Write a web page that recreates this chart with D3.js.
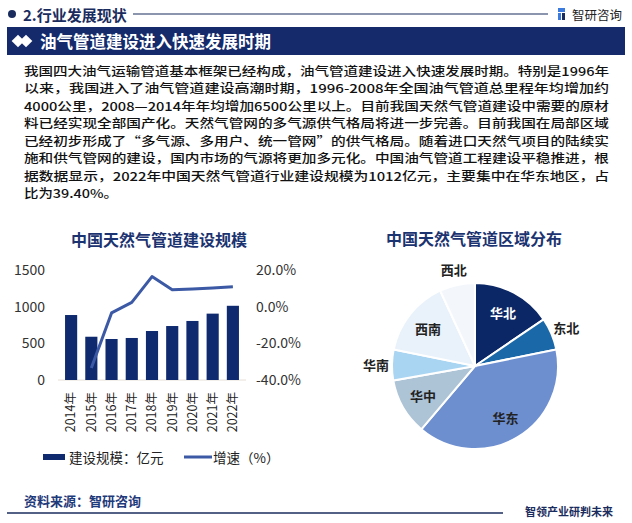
<!DOCTYPE html>
<html><head><meta charset="utf-8">
<script src="https://cdn.jsdelivr.net/npm/d3@7"></script>
<style>body{margin:0;background:#fff;} svg{display:block;font-family:"Noto Sans CJK SC","Noto Sans",sans-serif;}</style>
</head><body><svg id="c" width="632" height="523"></svg>
<script>
const years = ["2014年","2015年","2016年","2017年","2018年","2019年","2020年","2021年","2022年"];
const scaleValues = [886, 590, 559, 573, 668, 736, 805, 905, 1012];
const growthValues = [null, -33.4, -3.4, 2.3, 16.4, 9.2, 9.6, 10.2, 10.8];
const leftTicks = [0, 500, 1000, 1500];
const rightTicks = [-40, -20, 0, 20];
const regions = ["华北","东北","华东","华中","华南","西南","西北"];
const regionShares = [15.5, 6.3, 39.4, 11.0, 6.0, 14.9, 6.9];
const regionColors = ["#0c2766","#1b68a8","#6d8fd0","#adc3d6","#a9d5f2","#e9f2fa","#f3f7fc"];
const outsideLabels = ["东北","华南","西北"];
const paragraphLines = [
 "我国四大油气运输管道基本框架已经构成，油气管道建设进入快速发展时期。特别是1996年",
 "以来，我国进入了油气管道建设高潮时期，1996-2008年全国油气管道总里程年均增加约",
 "4000公里，2008—2014年年均增加6500公里以上。目前我国天然气管道建设中需要的原材",
 "料已经实现全部国产化。天然气管网的多气源供气格局将进一步完善。目前我国在局部区域",
 "已经初步形成了“多气源、多用户、统一管网”的供气格局。随着进口天然气项目的陆续实",
 "施和供气管网的建设，国内市场的气源将更加多元化。中国油气管道工程建设平稳推进，根",
 "据数据显示，2022年中国天然气管道行业建设规模为1012亿元，主要集中在华东地区，占",
 "比为39.40%。"
];

const navy = "#1a2c5e";
const svg = d3.select("#c");

// header
svg.append("circle").attr("cx",12).attr("cy",14).attr("r",4).attr("fill",navy);
svg.append("text").attr("x",23).attr("y",14).attr("dominant-baseline","central")
  .attr("font-size",15).attr("font-weight","bold").attr("fill",navy).text("2.行业发展现状");
svg.append("line").attr("x1",133).attr("x2",548).attr("y1",14).attr("y2",14).attr("stroke",navy).attr("stroke-width",1.2);
svg.append("rect").attr("x",558).attr("y",8).attr("width",7).attr("height",4).attr("fill","#3b7be0");
svg.append("rect").attr("x",558).attr("y",13).attr("width",3).attr("height",7).attr("fill","#3b7be0");
svg.append("rect").attr("x",562).attr("y",13).attr("width",3).attr("height",7).attr("fill",navy);
svg.append("text").attr("x",572).attr("y",14).attr("dominant-baseline","central")
  .attr("font-size",12.5).attr("fill","#222").text("智研咨询");

// title bar
svg.append("rect").attr("x",7).attr("y",27).attr("width",618).attr("height",28).attr("fill","#142a6b");
[[18,41],[26,41]].forEach(([x,y])=>{
  svg.append("rect").attr("x",-4.5).attr("y",-4.5).attr("width",9).attr("height",9)
    .attr("transform",`translate(${x},${y}) rotate(45)`).attr("fill","#fff");
});
svg.append("text").attr("x",40).attr("y",41).attr("dominant-baseline","central")
  .attr("font-size",16.5).attr("font-weight","bold").attr("fill","#fff").text("油气管道建设进入快速发展时期");

// paragraph
paragraphLines.forEach((t,i)=>{
  const el = svg.append("text").attr("x",24).attr("y",70+i*17.5).attr("dominant-baseline","central")
    .attr("font-size",12.05).attr("font-weight",500).attr("fill","#111").text(t);
  el.attr("textLength", i<paragraphLines.length-1 ? 585 : 94).attr("lengthAdjust","spacingAndGlyphs");
});

// ---- bar chart ----
svg.append("text").attr("x",159).attr("y",239).attr("text-anchor","middle").attr("dominant-baseline","central")
  .attr("font-size",16).attr("font-weight","bold").attr("fill","#1b3370").text("中国天然气管道建设规模");

const x = d3.scaleBand().domain(years).range([61,243]).paddingInner(0.4).paddingOuter(0.2);
const yL = d3.scaleLinear().domain([0,1500]).range([380,270]);
const yR = d3.scaleLinear().domain([-40,20]).range([380,270]);

svg.append("line").attr("x1",58).attr("x2",246).attr("y1",380).attr("y2",380).attr("stroke","#e6e0d6").attr("stroke-width",1);

svg.append("g").selectAll("rect").data(scaleValues).join("rect")
  .attr("x",(d,i)=>x(years[i])).attr("width",x.bandwidth())
  .attr("y",d=>yL(d)).attr("height",d=>yL(0)-yL(d)).attr("fill","#0f2a6e");

const lineData = growthValues.map((v,i)=>({x:x(years[i])+x.bandwidth()/2, v})).filter(d=>d.v!==null);
svg.append("path").datum(lineData)
  .attr("d", d3.line().x(d=>d.x).y(d=>yR(d.v)))
  .attr("fill","none").attr("stroke","#3b59a5").attr("stroke-width",3).attr("stroke-linejoin","round");

const axL = d3.axisLeft(yL).tickValues(leftTicks).tickSize(0).tickPadding(0).tickFormat(d3.format("d"));
const gL = svg.append("g").attr("transform","translate(45,0)").call(axL);
const axR = d3.axisRight(yR).tickValues(rightTicks).tickSize(0).tickPadding(0).tickFormat(d=>d.toFixed(1)+"%");
const gR = svg.append("g").attr("transform","translate(256,0)").call(axR);
[gL,gR].forEach(g=>{
  g.select(".domain").remove();
  g.selectAll("text").attr("font-size",14).attr("fill","#333").attr("font-family","'Noto Sans CJK SC','Noto Sans',sans-serif");
});

const axB = d3.axisBottom(x).tickSize(0).tickPadding(0);
const gB = svg.append("g").attr("transform","translate(0,392)").call(axB);
gB.select(".domain").remove();
gB.selectAll("text").attr("transform","rotate(-90)").attr("text-anchor","end")
  .attr("x",0).attr("y",0).attr("dy","0.35em").attr("font-size",12.5).attr("fill","#222")
  .attr("font-family","'Noto Sans CJK SC','Noto Sans',sans-serif");

// legend
svg.append("rect").attr("x",43).attr("y",454).attr("width",22).attr("height",6).attr("fill","#0f2a6e");
svg.append("text").attr("x",69).attr("y",457).attr("dominant-baseline","central").attr("font-size",13.5).attr("fill","#222").text("建设规模：亿元");
svg.append("line").attr("x1",184).attr("x2",212).attr("y1",457).attr("y2",457).attr("stroke","#3b59a5").attr("stroke-width",3);
svg.append("text").attr("x",213).attr("y",457).attr("dominant-baseline","central").attr("font-size",13.5).attr("fill","#222").text("增速（%）");

// ---- pie ----
svg.append("text").attr("x",474).attr("y",238).attr("text-anchor","middle").attr("dominant-baseline","central")
  .attr("font-size",16).attr("font-weight","bold").attr("fill","#1b3370").text("中国天然气管道区域分布");

const pieData = d3.pie().sort(null).value(d=>d.v)(regions.map((r,i)=>({r, v:regionShares[i], c:regionColors[i]})));
const R = 83;
const arc = d3.arc().innerRadius(0).outerRadius(R);
const gP = svg.append("g").attr("transform","translate(475,366)");
gP.selectAll("path").data(pieData).join("path").attr("d",arc)
  .attr("fill",d=>d.data.c).attr("stroke","#fff").attr("stroke-width",2);
const inArc = d3.arc().innerRadius(60).outerRadius(60);
const outArc = d3.arc().innerRadius(99).outerRadius(99);
gP.selectAll("text").data(pieData).join("text")
  .attr("transform",d=>`translate(${(outsideLabels.includes(d.data.r)?outArc:inArc).centroid(d)})`)
  .attr("text-anchor","middle").attr("dominant-baseline","central")
  .attr("font-size",13).attr("font-weight","bold")
  .attr("fill",d=>d.data.r==="华北"?"#fff":"#222").text(d=>d.data.r);

// footer
svg.append("text").attr("x",24).attr("y",500).attr("dominant-baseline","central")
  .attr("font-size",13).attr("font-weight","bold").attr("fill","#1f3a7a").text("资料来源：智研咨询");
svg.append("line").attr("x1",7).attr("x2",503).attr("y1",513).attr("y2",513).attr("stroke",navy).attr("stroke-width",1.5);
svg.append("text").attr("x",525).attr("y",511).attr("dominant-baseline","central")
  .attr("font-size",11).attr("font-weight","bold").attr("fill",navy).text("智领产业研判未来");
</script></body></html>
